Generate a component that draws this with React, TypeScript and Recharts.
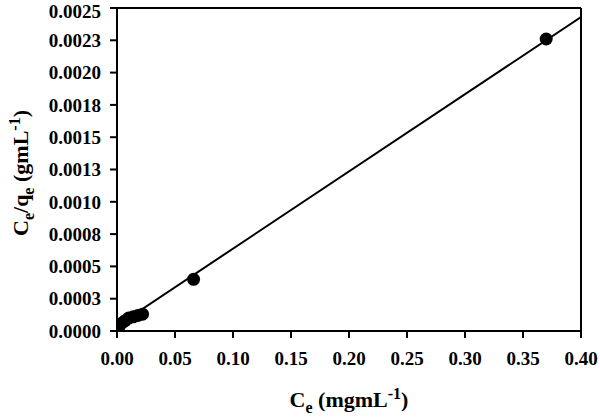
import {
  ComposedChart,
  Scatter,
  Line,
  XAxis,
  YAxis,
  ReferenceLine,
} from "recharts";

const ceValues = [0.0003, 0.001, 0.002, 0.004, 0.007, 0.01, 0.014, 0.018, 0.022, 0.066, 0.37];
const ceQeValues = [0.000002, 0.00002, 0.00004, 0.00006, 0.00008, 0.0001, 0.00011, 0.00012, 0.00013, 0.0004, 0.00226];

const fitX = [0, 0.4];
const fitY = [0.00004, 0.00243];

const xTicks = [0, 0.05, 0.1, 0.15, 0.2, 0.25, 0.3, 0.35, 0.4];
const yTicks = [0, 0.00025, 0.0005, 0.00075, 0.001, 0.00125, 0.0015, 0.00175, 0.002, 0.00225, 0.0025];
const yTickLabels = ["0.0000", "0.0003", "0.0005", "0.0008", "0.0010", "0.0013", "0.0015", "0.0018", "0.0020", "0.0023", "0.0025"];

const points = ceValues.map((x, i) => ({ x, y: ceQeValues[i] }));
const fitLine = fitX.map((x, i) => ({ x, y: fitY[i] }));

const FONT = "'Liberation Serif', 'Times New Roman', serif";
const tickStyle = { fontFamily: FONT, fontWeight: 700, fontSize: 19, fill: "#000" };
const labelStyle = { fontFamily: FONT, fontWeight: 700, fontSize: 22 };

export default function App() {
  return (
    <div style={{ position: "absolute", left: 0, top: 0 }}>
      <ComposedChart width={600} height={417} margin={{ top: 8, right: 19, left: 0, bottom: 0 }}>
        <XAxis
          dataKey="x"
          type="number"
          domain={[0, 0.4]}
          ticks={xTicks}
          tickFormatter={(v: number) => v.toFixed(2)}
          height={86}
          tick={tickStyle}
          tickSize={7}
          tickMargin={14}
          axisLine={{ stroke: "#000", strokeWidth: 2 }}
          tickLine={{ stroke: "#000", strokeWidth: 2 }}
          allowDataOverflow
        />
        <YAxis
          dataKey="y"
          type="number"
          domain={[0, 0.0025]}
          ticks={yTicks}
          tickFormatter={(v: number) => yTickLabels[yTicks.indexOf(v)] ?? ""}
          width={117}
          tick={tickStyle}
          tickSize={7}
          tickMargin={9}
          axisLine={{ stroke: "#000", strokeWidth: 2 }}
          tickLine={{ stroke: "#000", strokeWidth: 2 }}
          allowDataOverflow
        />
        <ReferenceLine y={0.0025} stroke="#000" strokeWidth={2} />
        <ReferenceLine x={0.4} stroke="#000" strokeWidth={2} />
        <Line
          data={fitLine}
          dataKey="y"
          type="linear"
          stroke="#000"
          strokeWidth={2}
          dot={false}
          activeDot={false}
          isAnimationActive={false}
        />
        <Scatter data={points} dataKey="y" fill="#000" isAnimationActive={false} shape={(p: any) => <circle cx={p.cx} cy={p.cy} r={6.5} fill="#000" />} />
        <text x={349} y={407} textAnchor="middle" style={labelStyle} fill="#000">
          C<tspan fontSize={16} dy={6}>e</tspan>
          <tspan dy={-6}> (mgmL</tspan>
          <tspan fontSize={16} dy={-8}>-1</tspan>
          <tspan dy={8}>)</tspan>
        </text>
        <text x={28} y={173} transform="rotate(-90 28 173)" textAnchor="middle" style={labelStyle} fill="#000">
          C<tspan fontSize={16} dy={6}>e</tspan>
          <tspan dy={-6}>/q</tspan>
          <tspan fontSize={16} dy={6}>e</tspan>
          <tspan dy={-6}> (gmL</tspan>
          <tspan fontSize={16} dy={-8}>-1</tspan>
          <tspan dy={8}>)</tspan>
        </text>
      </ComposedChart>
    </div>
  );
}
